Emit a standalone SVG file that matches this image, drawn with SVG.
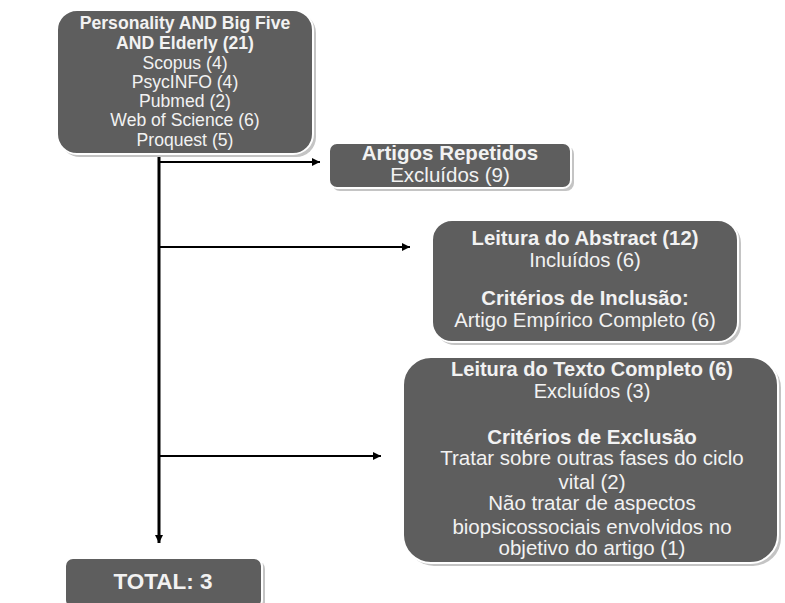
<svg xmlns="http://www.w3.org/2000/svg" width="785" height="603" viewBox="0 0 785 603">
<style>
.box{fill:#5e5e5e;stroke:#ffffff;stroke-width:2}
.sh{fill:#c4c4c4}
.t{font-family:"Liberation Sans",Arial,sans-serif;fill:#f2f2f2;text-anchor:middle}
.b{font-weight:bold}
.edge{stroke:#000;fill:none}
</style>
<defs>
<marker id="ah" viewBox="0 0 10 10" refX="10" refY="5" markerWidth="10" markerHeight="8" markerUnits="userSpaceOnUse" orient="auto">
<path d="M0,0 L10,5 L0,10 z" fill="#000"/>
</marker>
</defs>
<rect width="785" height="603" fill="#ffffff"/>
<g id="connectors">
<line class="edge" x1="159" y1="155" x2="159" y2="543" stroke-width="3" marker-end="url(#ah)"/>
<line class="edge" x1="159" y1="162" x2="320" y2="162" stroke-width="2" marker-end="url(#ah)"/>
<line class="edge" x1="159" y1="247" x2="410" y2="247" stroke-width="2" marker-end="url(#ah)"/>
<line class="edge" x1="159" y1="456" x2="381" y2="456" stroke-width="2" marker-end="url(#ah)"/>
</g>
<g id="n1">
<rect class="sh" x="60" y="13" width="256" height="144" rx="20"/>
<rect class="box" x="57" y="10" width="256" height="144" rx="20"/>
<text class="t b" x="185" y="29" font-size="17.6">Personality AND Big Five</text>
<text class="t b" x="185" y="49" font-size="17.6">AND Elderly (21)</text>
<text class="t" x="185" y="69" font-size="17.6">Scopus (4)</text>
<text class="t" x="185" y="88" font-size="17.6">PsycINFO (4)</text>
<text class="t" x="185" y="107" font-size="17.6">Pubmed (2)</text>
<text class="t" x="185" y="126" font-size="17.6">Web of Science (6)</text>
<text class="t" x="185" y="146" font-size="17.6">Proquest (5)</text>
</g>
<g id="n2">
<rect class="sh" x="332" y="146" width="242" height="45" rx="8"/>
<rect class="box" x="329" y="143" width="242" height="45" rx="8"/>
<text class="t b" x="450" y="160" font-size="20.5">Artigos Repetidos</text>
<text class="t" x="450" y="182" font-size="20.5">Excluídos (9)</text>
</g>
<g id="n3">
<rect class="sh" x="435" y="223" width="306" height="122" rx="20"/>
<rect class="box" x="432" y="220" width="306" height="122" rx="20"/>
<text class="t b" x="585" y="245" font-size="20.3">Leitura do Abstract (12)</text>
<text class="t" x="585" y="267" font-size="20.3">Incluídos (6)</text>
<text class="t b" x="585" y="305" font-size="20.3">Critérios de Inclusão:</text>
<text class="t" x="585" y="327" font-size="20.3">Artigo Empírico Completo (6)</text>
</g>
<g id="n4">
<rect class="sh" x="406" y="360" width="375" height="206" rx="28"/>
<rect class="box" x="403" y="357" width="375" height="206" rx="28"/>
<text class="t b" x="592" y="376" font-size="20">Leitura do Texto Completo (6)</text>
<text class="t" x="592" y="398" font-size="20">Excluídos (3)</text>
<text class="t b" x="592" y="444" font-size="20.5">Critérios de Exclusão</text>
<text class="t" x="592" y="465" font-size="20.5">Tratar sobre outras fases do ciclo</text>
<text class="t" x="592" y="489" font-size="20.5">vital (2)</text>
<text class="t" x="592" y="510" font-size="20.5">Não tratar de aspectos</text>
<text class="t" x="592" y="534" font-size="20.5">biopsicossociais envolvidos no</text>
<text class="t" x="592" y="555" font-size="20.5">objetivo do artigo (1)</text>
</g>
<g id="n5">
<rect class="sh" x="68" y="561" width="197" height="50" rx="8"/>
<rect class="box" x="65" y="558" width="197" height="50" rx="8"/>
<text class="t b" x="163" y="589" font-size="22.5">TOTAL: 3</text>
</g>
</svg>
